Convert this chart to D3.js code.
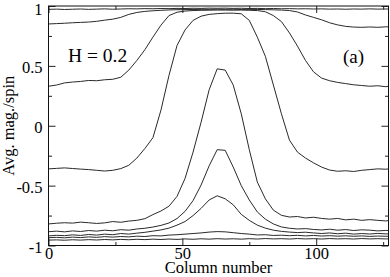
<!DOCTYPE html>
<html>
<head>
<meta charset="utf-8">
<script src="https://cdn.jsdelivr.net/npm/d3@7"></script>
<style>
  body { margin: 0; background: #fff; }
</style>
</head>
<body>
<div id="chart"></div>
<script>
// column numbers where the profiles were read
var cols = [0,3,6,9,12,15,18,21,24,27,30,
            33,36,39,42,45,48,51,54,57,60,63,
            66,69,72,75,78,81,84,87,90,93,96,
            99,102,105,108,111,114,117,120,123,126,127];

// average magnetization per spin, one array per curve (top to bottom)
var mag1 = [0.972,0.974,0.971,0.973,0.975,0.972,0.974,0.976,0.973,0.975,0.977,
            0.976,0.978,0.977,0.979,0.978,0.980,0.979,0.981,0.980,0.982,0.981,
            0.982,0.980,0.981,0.979,0.980,0.978,0.979,0.977,0.978,0.976,0.977,
            0.975,0.976,0.974,0.975,0.973,0.975,0.974,0.976,0.974,0.975,0.975];
var mag2 = [0.850,0.853,0.856,0.860,0.863,0.866,0.872,0.882,0.890,0.905,0.930,
            0.946,0.955,0.960,0.964,0.967,0.969,0.970,0.971,0.972,0.972,0.973,
            0.972,0.973,0.971,0.972,0.971,0.970,0.968,0.966,0.962,0.950,0.925,
            0.905,0.885,0.860,0.842,0.830,0.824,0.822,0.825,0.822,0.826,0.826];
var mag3 = [0.330,0.340,0.358,0.365,0.370,0.378,0.376,0.384,0.388,0.405,0.465,
            0.545,0.635,0.740,0.840,0.920,0.948,0.958,0.962,0.964,0.965,0.966,
            0.966,0.965,0.966,0.964,0.962,0.952,0.920,0.870,0.775,0.665,0.545,
            0.450,0.398,0.376,0.362,0.352,0.342,0.336,0.330,0.334,0.326,0.330];
var mag4 = [-0.360,-0.356,-0.352,-0.357,-0.362,-0.366,-0.372,-0.378,-0.372,-0.358,-0.330,
            -0.270,-0.190,-0.100,0.130,0.420,0.670,0.800,0.880,0.915,0.930,0.936,
            0.940,0.940,0.935,0.880,0.740,0.580,0.340,0.100,-0.120,-0.220,-0.270,
            -0.310,-0.345,-0.370,-0.380,-0.376,-0.382,-0.372,-0.366,-0.360,-0.363,-0.360];
var mag5 = [-0.820,-0.814,-0.810,-0.813,-0.805,-0.810,-0.816,-0.811,-0.800,-0.806,-0.796,
            -0.790,-0.776,-0.742,-0.712,-0.672,-0.590,-0.440,-0.220,0.030,0.300,0.475,
            0.465,0.340,0.100,-0.200,-0.470,-0.610,-0.705,-0.748,-0.762,-0.758,-0.770,
            -0.764,-0.774,-0.780,-0.774,-0.786,-0.780,-0.790,-0.784,-0.790,-0.795,-0.792];
var mag6 = [-0.885,-0.880,-0.886,-0.878,-0.883,-0.875,-0.880,-0.872,-0.877,-0.868,-0.872,
            -0.862,-0.856,-0.846,-0.832,-0.812,-0.775,-0.715,-0.625,-0.495,-0.335,-0.200,
            -0.205,-0.345,-0.500,-0.620,-0.720,-0.780,-0.820,-0.845,-0.856,-0.862,-0.859,
            -0.866,-0.870,-0.864,-0.872,-0.867,-0.875,-0.869,-0.872,-0.878,-0.874,-0.875];
var mag7 = [-0.920,-0.915,-0.918,-0.911,-0.916,-0.908,-0.913,-0.905,-0.910,-0.900,-0.905,
            -0.897,-0.890,-0.880,-0.870,-0.855,-0.830,-0.800,-0.750,-0.690,-0.620,-0.585,
            -0.610,-0.660,-0.740,-0.790,-0.830,-0.855,-0.872,-0.882,-0.888,-0.892,-0.889,
            -0.895,-0.900,-0.895,-0.902,-0.897,-0.905,-0.900,-0.904,-0.899,-0.903,-0.903];
var mag8 = [-0.935,-0.932,-0.936,-0.930,-0.934,-0.928,-0.932,-0.926,-0.930,-0.925,-0.928,
            -0.922,-0.925,-0.918,-0.920,-0.913,-0.910,-0.905,-0.900,-0.895,-0.888,-0.884,
            -0.886,-0.893,-0.900,-0.905,-0.912,-0.910,-0.916,-0.914,-0.918,-0.915,-0.920,
            -0.916,-0.921,-0.918,-0.922,-0.919,-0.923,-0.920,-0.924,-0.921,-0.923,-0.923];
var mag9 = [-0.955,-0.953,-0.956,-0.952,-0.955,-0.951,-0.954,-0.950,-0.953,-0.949,-0.952,
            -0.948,-0.951,-0.947,-0.950,-0.946,-0.949,-0.945,-0.948,-0.944,-0.947,-0.943,
            -0.946,-0.944,-0.947,-0.943,-0.946,-0.942,-0.945,-0.943,-0.946,-0.942,-0.945,
            -0.943,-0.946,-0.942,-0.945,-0.943,-0.946,-0.942,-0.945,-0.943,-0.945,-0.945];

var xMajor = [0, 50, 100];
var xMinor = [25, 75, 125];
var yMajor = [-1, -0.5, 0, 0.5, 1];
var yMinor = [-0.75, -0.25, 0.25, 0.75];

var series = [mag1, mag2, mag3, mag4, mag5, mag6, mag7, mag8, mag9];

var FONT = "'Liberation Serif', Tinos, 'Times New Roman', Times, 'DejaVu Serif', serif";

var W = 390, H = 277;
var svg = d3.select("#chart").append("svg")
    .attr("width", W)
    .attr("height", H)
    .style("font-family", FONT);

var x = d3.scaleLinear().domain([0, 127]).range([48.5, 388.5]);
var y = d3.scaleLinear().domain([-1, 1]).range([245.5, 6]);

// curves
var line = d3.line()
    .x(function(d, i) { return x(cols[i]); })
    .y(function(d) { return y(d); });

svg.selectAll(".curve")
  .data(series)
  .enter()
  .append("path")
    .attr("class", "curve")
    .attr("d", line)
    .attr("fill", "none")
    .attr("stroke", "#2a2a2a")
    .attr("stroke-width", 1);

// axes, ticks pointing inward on all four sides
function styleAxis(g) {
  g.attr("font-family", null).attr("font-size", null);
  g.select(".domain").remove();
  g.selectAll("line").attr("stroke", "#222");
  g.selectAll("text")
    .style("font-family", FONT)
    .style("font-size", "16.5px")
    .attr("fill", "#000");
}
function num(d) { return String(d); }

svg.append("g")
    .attr("transform", "translate(0," + y(-1) + ")")
    .call(d3.axisBottom(x).tickValues(xMajor).tickSize(-7).tickPadding(2).tickFormat(num))
    .call(styleAxis);
svg.append("g")
    .attr("transform", "translate(0," + y(-1) + ")")
    .call(d3.axisBottom(x).tickValues(xMinor).tickSize(-3.5).tickFormat(""))
    .call(styleAxis);
svg.append("g")
    .attr("transform", "translate(0," + y(1) + ")")
    .call(d3.axisTop(x).tickValues(xMajor).tickSize(-7).tickFormat(""))
    .call(styleAxis);
svg.append("g")
    .attr("transform", "translate(0," + y(1) + ")")
    .call(d3.axisTop(x).tickValues(xMinor).tickSize(-3.5).tickFormat(""))
    .call(styleAxis);

svg.append("g")
    .attr("transform", "translate(" + x(0) + ",0)")
    .call(d3.axisLeft(y).tickValues(yMajor).tickSize(-7).tickPadding(6).tickFormat(num))
    .call(styleAxis)
    .selectAll("text").attr("dy", function(d) { return d === 1 ? "0.5em" : "0.4em"; });
svg.append("g")
    .attr("transform", "translate(" + x(0) + ",0)")
    .call(d3.axisLeft(y).tickValues(yMinor).tickSize(-3.5).tickFormat(""))
    .call(styleAxis);
svg.append("g")
    .attr("transform", "translate(" + x(127) + ",0)")
    .call(d3.axisRight(y).tickValues(yMajor).tickSize(-7).tickFormat(""))
    .call(styleAxis);
svg.append("g")
    .attr("transform", "translate(" + x(127) + ",0)")
    .call(d3.axisRight(y).tickValues(yMinor).tickSize(-3.5).tickFormat(""))
    .call(styleAxis);

// frame
svg.append("rect")
    .attr("x", x(0))
    .attr("y", y(1))
    .attr("width", x(127) - x(0))
    .attr("height", y(-1) - y(1))
    .attr("fill", "none")
    .attr("stroke", "#111")
    .attr("stroke-width", 1);

// labels
svg.append("text")
    .attr("x", (x(0) + x(127)) / 2)
    .attr("y", 273)
    .attr("text-anchor", "middle")
    .style("font-family", FONT)
    .style("font-size", "16.5px")
    .text("Column number");

svg.append("text")
    .attr("transform", "translate(14," + y(0) + ")rotate(-90)")
    .attr("text-anchor", "middle")
    .style("font-family", FONT)
    .style("font-size", "16.5px")
    .text("Avg. mag./spin");

svg.append("text")
    .attr("x", 68)
    .attr("y", 62)
    .style("font-family", FONT)
    .style("font-size", "19.5px")
    .text("H = 0.2");

svg.append("text")
    .attr("x", 343)
    .attr("y", 63)
    .style("font-family", FONT)
    .style("font-size", "19px")
    .text("(a)");
</script>
</body>
</html>
